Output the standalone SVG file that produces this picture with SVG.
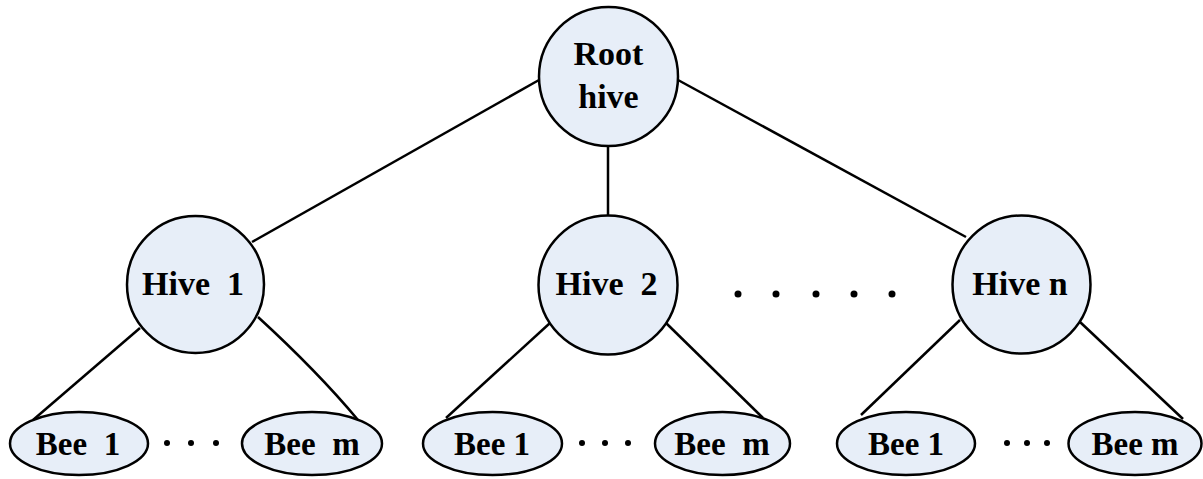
<svg xmlns="http://www.w3.org/2000/svg" width="1203" height="479" viewBox="0 0 1203 479">
<style>
.n{fill:#E7EEF8;stroke:#000;stroke-width:2.5}
.t{font-family:"Liberation Serif",serif;font-weight:bold;font-size:34px;text-anchor:middle;white-space:pre;fill:#000}
.b{font-size:33px}
.c line,.c path{stroke:#000;stroke-width:2.5;fill:none}
.d{fill:#000}
</style>
<rect width="1203" height="479" fill="#fff"/>
<g class="c">
<line x1="539" y1="80" x2="252" y2="242"/>
<line x1="608" y1="146" x2="608" y2="216"/>
<line x1="678" y1="80" x2="966" y2="237"/>
<line x1="140" y1="328" x2="33" y2="420"/>
<path d="M258,317 Q318,372 358,420"/>
<line x1="550" y1="323" x2="446" y2="418"/>
<line x1="665" y1="322" x2="763" y2="418"/>
<line x1="960" y1="320" x2="861" y2="415"/>
<line x1="1080" y1="322" x2="1183" y2="419"/>
</g>
<g id="root"><circle class="n" cx="608.5" cy="76.5" r="69.5"/><text class="t" x="608.5" y="65">Root</text><text class="t" x="608.5" y="108">hive</text></g>
<g id="hive1"><circle class="n" cx="195.5" cy="284.5" r="68.5"/><text class="t" x="193" y="295">Hive  1</text></g>
<g id="hive2"><circle class="n" cx="608" cy="285" r="69.5"/><text class="t" x="606.5" y="295">Hive  2</text></g>
<g id="hiven"><circle class="n" cx="1021.5" cy="284.5" r="69"/><text class="t" x="1020" y="295">Hive n</text></g>
<g id="g1b1"><ellipse class="n" cx="79" cy="443.5" rx="69" ry="31.5"/><text class="t b" x="78" y="455">Bee  1</text></g>
<g id="g1bm"><ellipse class="n" cx="312" cy="443.5" rx="70" ry="31.5"/><text class="t b" x="312" y="455">Bee  m</text></g>
<g id="g2b1"><ellipse class="n" cx="492.5" cy="443.5" rx="69.5" ry="31.5"/><text class="t b" x="492" y="455">Bee 1</text></g>
<g id="g2bm"><ellipse class="n" cx="722.5" cy="443.5" rx="67.5" ry="31.5"/><text class="t b" x="722" y="455">Bee  m</text></g>
<g id="g3b1"><ellipse class="n" cx="906" cy="443.5" rx="69" ry="31.5"/><text class="t b" x="906" y="455">Bee 1</text></g>
<g id="g3bm"><ellipse class="n" cx="1135" cy="443.5" rx="66.5" ry="31.5"/><text class="t b" x="1135" y="455">Bee m</text></g>
<g id="dots" class="d">
<circle cx="167" cy="443" r="3"/><circle cx="191" cy="443" r="3"/><circle cx="216" cy="443" r="3"/>
<circle cx="582" cy="443" r="3"/><circle cx="605" cy="443" r="3"/><circle cx="628" cy="443" r="3"/>
<circle cx="1007" cy="443" r="3"/><circle cx="1027" cy="443" r="3"/><circle cx="1047" cy="443" r="3"/>
<circle cx="738" cy="294" r="3.5"/><circle cx="776" cy="294" r="3.5"/><circle cx="816" cy="294" r="3.5"/><circle cx="854" cy="294" r="3.5"/><circle cx="892" cy="294" r="3.5"/>
</g>
</svg>
